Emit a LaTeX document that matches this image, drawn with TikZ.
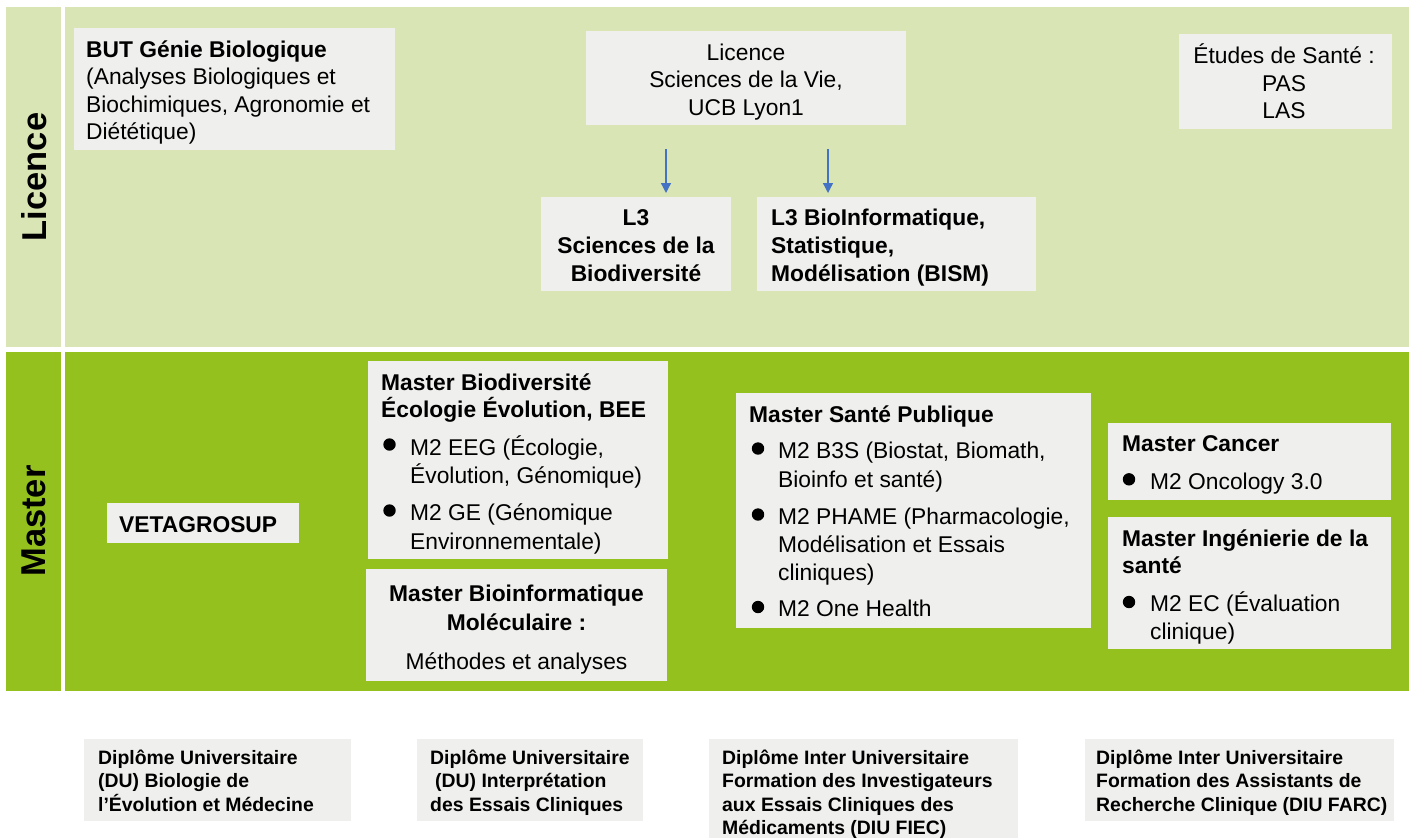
\documentclass[tikz,border=0pt]{standalone}
\usepackage{fontspec}
\setmainfont{Liberation Sans}
\usetikzlibrary{arrows.meta}
\definecolor{licbg}{HTML}{D9E5B5}
\definecolor{masbg}{HTML}{95C11F}
\definecolor{boxgray}{HTML}{EFEFED}
\definecolor{arrblue}{HTML}{4472C4}
\begin{document}
\begin{tikzpicture}[x=1pt,y=-1pt,
  box/.style={fill=boxgray, draw=none, inner sep=0, outer sep=0, anchor=north west},
  t/.style={inner sep=0, anchor=base west, font=\fontsize{22.8}{27.5}\selectfont},
  tb/.style={t, font=\bfseries\fontsize{22.8}{27.5}\selectfont},
  tc/.style={t, anchor=base},
  tbc/.style={tb, anchor=base},
  sm/.style={inner sep=0, anchor=base west, font=\bfseries\fontsize{19.4}{23.4}\selectfont},
  rot/.style={inner sep=0, rotate=90, font=\bfseries\fontsize{34.5}{40}\selectfont},
  arr/.style={draw=arrblue, line width=1.3pt, -{Triangle[width=10pt,length=10pt]}},
  bul/.style={fill=black}
]
\useasboundingbox (0,0) rectangle (1415,838);

% bands
\fill[licbg] (6,7) rectangle (61,347);
\fill[licbg] (65,7) rectangle (1409,347);
\fill[masbg] (6,352) rectangle (61,691);
\fill[masbg] (65,352) rectangle (1409,691);
\node[rot] (licL) at (34,177) {Licence};
\node[rot] (masL) at (34,521) {Master};

% boxes
\node[box, minimum width=321pt, minimum height=122pt] (but) at (74,28) {};
\node[box, minimum width=320pt, minimum height=94pt] (lic) at (586,31) {};
\node[box, minimum width=190pt, minimum height=94pt] (l3a) at (541,197) {};
\node[box, minimum width=279pt, minimum height=94pt] (l3b) at (757,197) {};
\node[box, minimum width=213pt, minimum height=95pt] (etu) at (1179,34) {};
\node[box, minimum width=192pt, minimum height=40pt] (veta) at (107,503) {};
\node[box, minimum width=300pt, minimum height=198pt] (bee) at (368,361) {};
\node[box, minimum width=301pt, minimum height=112pt] (bim) at (366,569) {};
\node[box, minimum width=355pt, minimum height=235pt] (sp) at (736,393) {};
\node[box, minimum width=283pt, minimum height=77pt] (can) at (1108,423) {};
\node[box, minimum width=283pt, minimum height=132pt] (ing) at (1108,517) {};
\node[box, minimum width=267pt, minimum height=82pt] (du1) at (84,739) {};
\node[box, minimum width=226pt, minimum height=82pt] (du2) at (417,739) {};
\node[box, minimum width=309pt, minimum height=99pt] (diu1) at (709,739) {};
\node[box, minimum width=309pt, minimum height=82pt] (diu2) at (1085,739) {};

% BUT
\node[tb] (butA) at (86,57) {BUT Génie Biologique};
\node[t] (butB) at (86,84.5) {(Analyses Biologiques et};
\node[t] (butC) at (86,112) {Biochimiques, Agronomie et};
\node[t] (butD) at (86,139.5) {Diététique)};

% Licence SV
\node[tc] (licA) at (746,60) {Licence};
\node[tc] (licB) at (746,87.5) {Sciences de la Vie,};
\node[tc] (licC) at (746,115) {UCB Lyon1};

% L3 boxes
\node[tbc] (l3aA) at (636,225) {L3};
\node[tbc] (l3aB) at (636,253) {Sciences de la};
\node[tbc] (l3aC) at (636,281) {Biodiversité};
\node[tb] (l3bA) at (771,225) {L3 BioInformatique,};
\node[tb] (l3bB) at (771,253) {Statistique,};
\node[tb] (l3bC) at (771,281) {Modélisation (BISM)};

% arrows
\coordinate (a1s) at ([xshift=-80pt,yshift=-24pt]lic.south);
\coordinate (a1e) at (a1s |- l3a.north);
\coordinate (a2s) at ([xshift=82pt,yshift=-24pt]lic.south);
\coordinate (a2e) at (a2s |- l3b.north);
\draw[arr, shorten >=4pt] (a1s) -- (a1e);
\draw[arr, shorten >=4pt] (a2s) -- (a2e);

% Etudes de sante
\node[tc] (etuA) at (1284,63.5) {Études de Santé :};
\node[tc] (etuB) at (1284,91) {PAS};
\node[tc] (etuC) at (1284,118.5) {LAS};

% VETAGROSUP
\node[tb] (vetaA) at (119,532.5) {VETAGROSUP};

% BEE
\node[tb] (beeA) at (381,390) {Master Biodiversité};
\node[tb] (beeB) at (381,417.5) {Écologie Évolution, BEE};
\fill[bul] (389.5,444.5) circle[radius=6.2pt];
\node[t] (beeC) at (410,455) {M2 EEG (Écologie,};
\node[t] (beeD) at (410,483) {Évolution, Génomique)};
\fill[bul] (389.5,510.5) circle[radius=6.2pt];
\node[t] (beeE) at (410,520.5) {M2 GE (Génomique};
\node[t] (beeF) at (410,549) {Environnementale)};

% Bioinformatique moleculaire
\node[tbc] (bimA) at (516.5,601) {Master Bioinformatique};
\node[tbc] (bimB) at (516.5,630) {Moléculaire :};
\node[tc] (bimC) at (516.5,669) {Méthodes et analyses};

% Sante publique
\node[tb] (spA) at (749,422) {Master Santé Publique};
\fill[bul] (758,448.5) circle[radius=6.2pt];
\node[t] (spB) at (778,458) {M2 B3S (Biostat, Biomath,};
\node[t] (spC) at (778,487) {Bioinfo et santé)};
\fill[bul] (758,514.5) circle[radius=6.2pt];
\node[t] (spD) at (778,524.5) {M2 PHAME (Pharmacologie,};
\node[t] (spE) at (778,552.5) {Modélisation et Essais};
\node[t] (spF) at (778,580) {cliniques)};
\fill[bul] (758,607) circle[radius=6.2pt];
\node[t] (spG) at (778,616.5) {M2 One Health};

% Cancer
\node[tb] (canA) at (1122,451) {Master Cancer};
\fill[bul] (1129,479.3) circle[radius=6.2pt];
\node[t] (canB) at (1150,489) {M2 Oncology 3.0};

% Ingenierie
\node[tb] (ingA) at (1122,546) {Master Ingénierie de la};
\node[tb] (ingB) at (1122,573) {santé};
\fill[bul] (1129,602) circle[radius=6.2pt];
\node[t] (ingC) at (1150,611.5) {M2 EC (Évaluation};
\node[t] (ingD) at (1150,639) {clinique)};

% Diplomes
\node[sm] (du1A) at (98,764.3) {Diplôme Universitaire};
\node[sm] (du1B) at (98,787.7) {(DU) Biologie de};
\node[sm] (du1C) at (98,811) {l’Évolution et Médecine};

\node[sm] (du2A) at (430,764.3) {Diplôme Universitaire};
\node[sm] (du2B) at (430,787.7) {\hspace*{5pt}(DU) Interprétation};
\node[sm] (du2C) at (430,811) {des Essais Cliniques};

\node[sm] (diu1A) at (722,764.3) {Diplôme Inter Universitaire};
\node[sm] (diu1B) at (722,787.7) {Formation des Investigateurs};
\node[sm] (diu1C) at (722,811) {aux Essais Cliniques des};
\node[sm] (diu1D) at (722,834.5) {Médicaments (DIU FIEC)};

\node[sm] (diu2A) at (1096,764.3) {Diplôme Inter Universitaire};
\node[sm] (diu2B) at (1096,787.7) {Formation des Assistants de};
\node[sm] (diu2C) at (1096,811) {Recherche Clinique (DIU FARC)};
\end{tikzpicture}
\end{document}
